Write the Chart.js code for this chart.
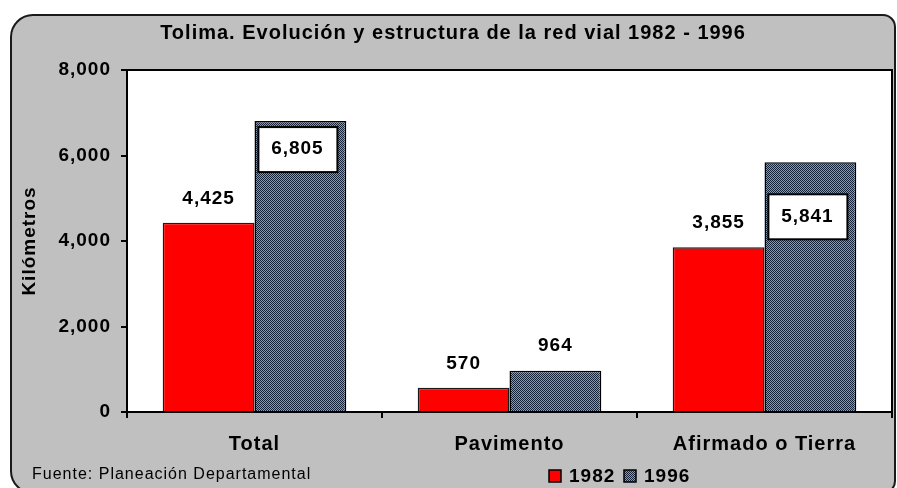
<!DOCTYPE html>
<html>
<head>
<meta charset="utf-8">
<script src="https://cdn.jsdelivr.net/npm/chart.js@4/dist/chart.umd.min.js"></script>
<style>
  body { margin: 0; background: #fff; }
  #wrap { width: 897px; height: 488px; }
</style>
</head>
<body>
<div id="wrap"><canvas id="chart" width="897" height="488"></canvas></div>
<script>
// data
const categories = ["Total", "Pavimento", "Afirmado o Tierra"];
const years = ["1982", "1996"];
const values1982 = [4425, 570, 3855];
const values1996 = [6805, 964, 5841];
const yTicks = [0, 2000, 4000, 6000, 8000];

const FONT = "'Liberation Sans', Arial, sans-serif";

// checker pattern used for the 1996 bars
function makePattern() {
    const c = document.createElement("canvas");
    c.width = 2;
    c.height = 2;
    const g = c.getContext("2d");
    g.fillStyle = "#7d9cc4";
    g.fillRect(0, 0, 2, 2);
    g.fillStyle = "#14223a";
    g.fillRect(0, 0, 1, 1);
    g.fillRect(1, 1, 1, 1);
    return c.getContext("2d").createPattern(c, "repeat");
}

const canvas = document.getElementById("chart");
const ctx = canvas.getContext("2d");
const pattern = makePattern();

function fmt(v) {
    return v.toLocaleString("en-US");
}

// the old Excel text is spaced out a bit
const spacingPlugin = {
    id: "spacing",
    beforeInit(chart) { chart.ctx.letterSpacing = "1px"; },
    beforeUpdate(chart) { chart.ctx.letterSpacing = "1px"; },
    beforeDraw(chart) { chart.ctx.letterSpacing = "1px"; },
};

// gray rounded frame + white plot area
const framePlugin = {
    id: "frame",
    beforeDraw(chart) {
        const c = chart.ctx;
        const a = chart.chartArea;
        c.save();
        c.fillStyle = "#fff";
        c.fillRect(0, 0, chart.width, chart.height);
        c.beginPath();
        c.roundRect(11, 15, 884, 478, [22, 12, 12, 22]);
        c.fillStyle = "#c0c0c0";
        c.fill();
        c.lineWidth = 2;
        c.strokeStyle = "#1a1a1a";
        c.stroke();
        c.fillStyle = "#fff";
        c.fillRect(a.left, a.top, a.right - a.left, a.bottom - a.top);
        c.restore();
    },
    afterDraw(chart) {
        const c = chart.ctx;
        const a = chart.chartArea;
        c.save();
        c.strokeStyle = "#000";
        c.lineWidth = 2;
        c.strokeRect(a.left, a.top, a.right - a.left, a.bottom - a.top);

        // source note
        c.fillStyle = "#000";
        c.font = "16px " + FONT;
        c.textAlign = "left";
        c.textBaseline = "middle";
        c.fillText("Fuente: Planeación Departamental", 32, 475);

        // legend
        const fills = ["#ff0000", pattern];
        let x = 549;
        chart.data.datasets.forEach((ds, i) => {
            c.fillStyle = fills[i];
            c.fillRect(x, 470, 12, 12);
            c.lineWidth = 1.5;
            c.strokeStyle = "#000";
            c.strokeRect(x, 470, 12, 12);
            c.fillStyle = "#000";
            c.font = "bold 19px " + FONT;
            c.fillText(ds.label, x + 20, 477);
            x += 75;
        });
        c.restore();
    }
};

// value labels; 1996 labels sit in white boxes
const labelPlugin = {
    id: "barLabels",
    afterDatasetsDraw(chart) {
        const c = chart.ctx;
        const boxOffsets = [28, -25, 54];
        const boxed = [true, false, true];
        c.save();
        c.font = "bold 19px " + FONT;
        c.textAlign = "center";
        c.textBaseline = "middle";
        chart.data.datasets.forEach((ds, di) => {
            const meta = chart.getDatasetMeta(di);
            meta.data.forEach((bar, i) => {
                const txt = fmt(ds.data[i]);
                if (di === 0) {
                    c.fillStyle = "#000";
                    c.fillText(txt, bar.x, bar.y - 24);
                } else {
                    const cy = bar.y + boxOffsets[i];
                    const cx = bar.x - 3;
                    if (boxed[i]) {
                        c.fillStyle = "#fff";
                        c.fillRect(cx - 39, cy - 22, 79, 45);
                        c.lineWidth = 2;
                        c.strokeStyle = "#000";
                        c.strokeRect(cx - 39, cy - 22, 79, 45);
                    }
                    c.fillStyle = "#000";
                    c.fillText(txt, boxed[i] ? cx : bar.x, cy);
                }
            });
        });
        c.restore();
    }
};

new Chart(ctx, {
    type: "bar",
    data: {
        labels: categories,
        datasets: [
            {
                label: years[0],
                data: values1982,
                backgroundColor: "#ff0000",
                borderColor: "#1a1a1a",
                borderWidth: 1.5,
            },
            {
                label: years[1],
                data: values1996,
                backgroundColor: pattern,
                borderColor: "#000",
                borderWidth: 1.5,
            },
        ],
    },
    options: {
        responsive: false,
        animation: false,
        categoryPercentage: 0.72,
        barPercentage: 1.0,
        layout: { padding: { left: 14, right: 5, top: 0, bottom: 0 } },
        plugins: {
            legend: { display: false },
            tooltip: { enabled: false },
            title: {
                display: true,
                text: "Tolima. Evolución y estructura de la red vial 1982 - 1996",
                color: "#000",
                font: { family: FONT, size: 20, weight: "bold", lineHeight: 1.2 },
                padding: { top: 21, bottom: 25 },
            },
        },
        scales: {
            x: {
                grid: {
                    display: true,
                    drawOnChartArea: false,
                    drawTicks: true,
                    tickLength: 6,
                    color: "#000",
                    lineWidth: 2,
                    offset: true,
                },
                border: { color: "#000", width: 2 },
                ticks: {
                    color: "#000",
                    padding: 14,
                    font: { family: FONT, size: 20, weight: "bold" },
                },
                afterFit(scale) { scale.height = 76; },
            },
            y: {
                min: 0,
                max: 8000,
                afterBuildTicks(scale) {
                    scale.ticks = yTicks.map(v => ({ value: v }));
                },
                grid: {
                    drawOnChartArea: false,
                    drawTicks: true,
                    tickLength: 6,
                    color: "#000",
                    lineWidth: 2,
                },
                border: { color: "#000", width: 2 },
                ticks: {
                    color: "#000",
                    padding: 10,
                    font: { family: FONT, size: 19, weight: "bold" },
                    callback: v => fmt(v),
                },
                title: {
                    display: true,
                    text: "Kilómetros",
                    color: "#000",
                    font: { family: FONT, size: 19, weight: "bold", lineHeight: 1.2 },
                    padding: { top: 4, bottom: 0 },
                },
                afterFit(scale) { scale.width = 113; },
            },
        },
    },
    plugins: [spacingPlugin, framePlugin, labelPlugin],
});
</script>
</body>
</html>
